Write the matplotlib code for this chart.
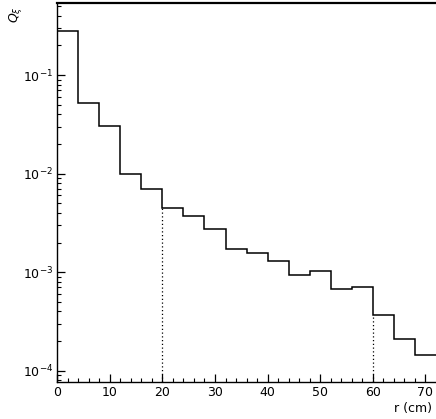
import numpy as np
import matplotlib
matplotlib.use("Agg")
import matplotlib.pyplot as plt
from matplotlib.ticker import LogLocator, FixedLocator, NullFormatter

# Histogram data: bin edges (cm) and Q values
bin_edges = [0, 4, 8, 12, 16, 20, 24, 28, 32, 36, 40, 44, 48, 52, 56, 60, 64, 68, 72]
q_values = [0.28, 0.0516, 0.0303, 0.0100, 0.0070, 0.0045, 0.0037, 0.00273,
            0.00173, 0.00157, 0.00130, 0.00094, 0.00104, 0.00067, 0.000705,
            0.000369, 0.000209, 0.000143]
dotted_at = [20, 60]
x_ticks = [0, 10, 20, 30, 40, 50, 60, 70]

plt.rcParams['font.family'] = ['DejaVu Sans']
fig = plt.figure(figsize=(4.36, 4.19), dpi=100)
ax = fig.add_axes([0.131, 0.0883, 0.869, 0.905])

ax.stairs(q_values, bin_edges, color='black', lw=1.1, baseline=None)

ymin, ymax = 7.7e-5, 0.54
edges = np.array(bin_edges)
vals = np.array(q_values)
for xd in dotted_at:
    i = int(np.where(edges == xd)[0][0])
    ax.vlines(xd, ymin, vals[i], colors='black', linestyles=(0, (1, 2)), lw=0.9)

ax.set_yscale('log')
ax.set_xlim(0, 72)
ax.set_ylim(ymin, ymax)

ax.spines['right'].set_visible(False)
ax.spines['top'].set_linewidth(1.6)
for s in ['left', 'bottom']:
    ax.spines[s].set_linewidth(1.0)

ax.xaxis.set_major_locator(FixedLocator(x_ticks))
ax.xaxis.set_minor_locator(FixedLocator(np.arange(0, 72, 2)))
ax.yaxis.set_major_locator(LogLocator(base=10, numticks=10))
ax.yaxis.set_minor_locator(LogLocator(base=10, subs=np.arange(2, 10), numticks=20))
ax.yaxis.set_minor_formatter(NullFormatter())

ax.tick_params(axis='both', which='major', direction='in', length=6, width=0.9,
               labelsize=9, top=False, right=False)
ax.tick_params(axis='both', which='minor', direction='in', length=3, width=0.8,
               top=False, right=False)
ax.tick_params(axis='x', pad=3)
ax.tick_params(axis='y', pad=3)

fig.text(0.035, 0.965, r'$Q_{\xi}$', rotation=90, fontsize=9, ha='center', va='center')
fig.text(0.99, 0.01, 'r (cm)', fontsize=9, ha='right', va='bottom')

fig.savefig('out.png', dpi=100)
